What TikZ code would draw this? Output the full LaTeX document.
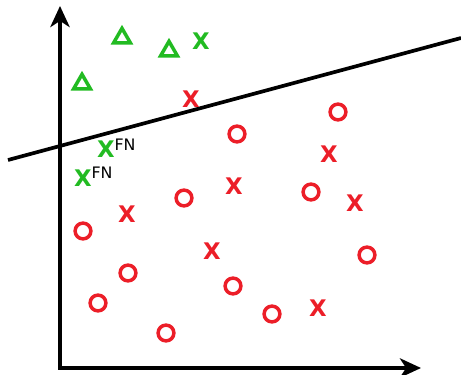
\documentclass[tikz,border=0pt]{standalone}
\usepackage{fontspec}
\setmainfont{DejaVu Sans}
\usetikzlibrary{shapes.geometric, arrows.meta}
\definecolor{posgreen}{RGB}{34,187,34}
\definecolor{negred}{RGB}{236,30,40}
\begin{document}
\begin{tikzpicture}[x=0.02cm, y=-0.02cm,
	axis/.style={line width=2.1pt, {Stealth[length=12pt, width=11pt, inset=3.5pt]}-{Stealth[length=12pt, width=11pt, inset=3.5pt]}},
	sepline/.style={line width=2.1pt},
	ring/.style={shape=circle, draw=negred, line width=2pt, minimum size=9pt, inner sep=0pt},
	tri/.style={regular polygon, regular polygon sides=3, draw=posgreen, line width=2pt, minimum size=11pt, inner sep=0pt},
	cross/.style={inner sep=0pt, font=\fontsize{13}{15}\selectfont\bfseries},
	fntag/.style={inner sep=0pt, font=\fontsize{9}{11}\selectfont}]
	\useasboundingbox (0,0) rectangle (461,375);
	% axes
	\coordinate (O) at (60,368);
	\coordinate (Ytip) at (60,6);
	\coordinate (Xtip) at (421,368);
	\draw[axis] (Ytip) -- (O) -- (Xtip);
	% decision boundary
	\coordinate (L1) at (8,160);
	\coordinate (L2) at (461,38);
	\draw[sepline] (L1) -- (L2);
	% positive class
	\node[tri] (T1) at (122,38){};
	\node[tri] (T2) at (169,51){};
	\node[tri] (T3) at (82,84){};
	\node[cross, text=posgreen] (G1) at (201,41){X};
	\node[cross, text=posgreen] (G2) at (106,149){X};
	\node[fntag] (F1) at (125,145){FN};
	\node[cross, text=posgreen] (G3) at (83,178){X};
	\node[fntag] (F2) at (102,173){FN};
	% negative class
	\node[cross, text=negred] (R1) at (191,99){X};
	\node[cross, text=negred] (R2) at (329,154){X};
	\node[cross, text=negred] (R3) at (234,186){X};
	\node[cross, text=negred] (R4) at (355,203){X};
	\node[cross, text=negred] (R5) at (127,214){X};
	\node[cross, text=negred] (R6) at (212,251){X};
	\node[cross, text=negred] (R7) at (318,308){X};
	\node[ring] (C1) at (338,112){};
	\node[ring] (C2) at (237,134){};
	\node[ring] (C3) at (184,198){};
	\node[ring] (C4) at (311,192){};
	\node[ring] (C5) at (83,231){};
	\node[ring] (C6) at (367,255){};
	\node[ring] (C7) at (128,273){};
	\node[ring] (C8) at (233,286){};
	\node[ring] (C9) at (98,303){};
	\node[ring] (C10) at (272,314){};
	\node[ring] (C11) at (166,333){};
\end{tikzpicture}
\end{document}
